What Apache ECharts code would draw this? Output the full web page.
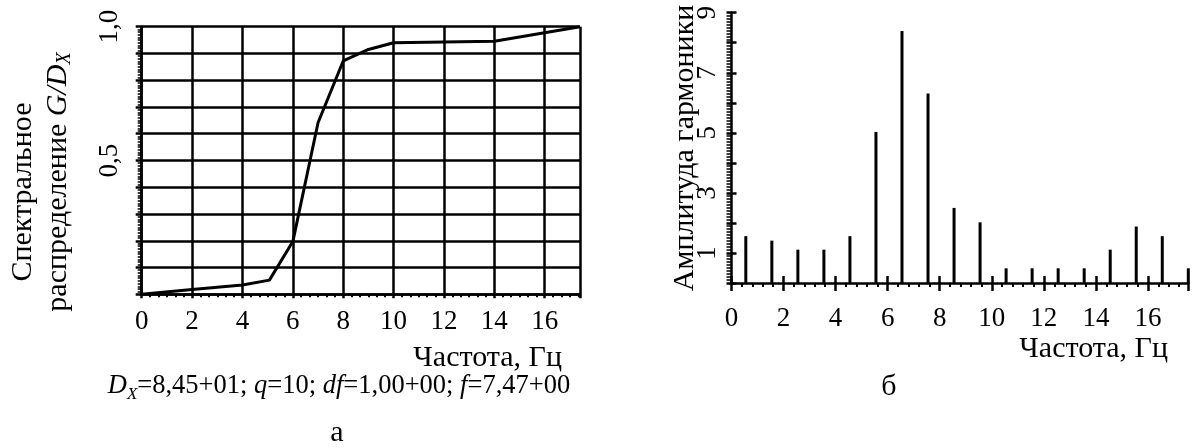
<!DOCTYPE html>
<html>
<head>
<meta charset="utf-8">
<script src="https://cdn.jsdelivr.net/npm/echarts@6/dist/echarts.min.js"></script>
<style>
html, body { margin: 0; padding: 0; background: #fff; }
#chart { width: 1194px; height: 448px; }
</style>
</head>
<body>
<div id="chart"></div>
<script>
// а - спектральное распределение G/Dx
const distFreq = [0, 2, 4, 5.07, 6, 7, 8, 9, 10, 14, 17.4];
const distValue = [0, 0.018, 0.035, 0.053, 0.197, 0.641, 0.872, 0.915, 0.94, 0.946, 1.0];
const distYLabels = ['0,5', '1,0'];

// б - амплитуды гармоник
const harmFreq = [0.55, 1.55, 2.55, 3.55, 4.55, 5.55, 6.55, 7.55, 8.55, 9.55, 10.55, 11.55, 12.55, 13.55, 14.55, 15.55, 16.55, 17.55];
const harmAmp = [1.56, 1.41, 1.11, 1.11, 1.56, 5.03, 8.39, 6.31, 2.5, 2.02, 0.49, 0.49, 0.49, 0.49, 1.11, 1.88, 1.56, 0.49];
const harmYLabels = ['1', '3', '5', '7', '9'];

const FF = '"Liberation Serif", "Times New Roman", serif';
const FS = 27;   // цифры
const FT = 30;   // подписи
const black = '#000';

let myChart = echarts.init(document.getElementById('chart'));

const lbl = { fontFamily: FF, fontSize: FS, color: black };

// обычный текст для graphic
function txt(x, y, text, align, rot) {
  return {
    type: 'text', x: x, y: y, rotation: rot || 0,
    style: { text: text, font: FT + 'px ' + FF, fill: black, align: align, verticalAlign: 'middle', textAlign: align, textVerticalAlign: 'middle' }
  };
}

const richStyles = function (size) {
  return {
    n: { fontFamily: FF, fontSize: size, lineHeight: 34, verticalAlign: 'middle' },
    i: { fontFamily: FF, fontSize: size, fontStyle: 'italic', lineHeight: 34, verticalAlign: 'middle' },
    s: { fontFamily: FF, fontSize: Math.round(size * 0.66), fontStyle: 'italic', lineHeight: 34, verticalAlign: 'bottom' }
  };
};

const option = {
  backgroundColor: '#fff',
  animation: false,
  grid: [
    { left: 141.7, top: 26.7, right: 614, bottom: 153.7 },
    { left: 731.5, top: 12.7, right: 5.7, bottom: 165 }
  ],
  xAxis: [
    {
      type: 'value', gridIndex: 0, min: 0, max: 17.4, interval: 2,
      axisLine: { lineStyle: { color: black, width: 2.5 } },
      axisTick: { show: true, inside: false, length: 4, lineStyle: { color: black, width: 2.5 } },
      minorTick: { show: true, splitNumber: 6, length: 3, lineStyle: { color: black, width: 2 } },
      splitLine: { show: true, lineStyle: { color: black, width: 2.5 } },
      axisLabel: Object.assign({ margin: 14, showMaxLabel: false }, lbl)
    },
    {
      type: 'value', gridIndex: 1, min: 0, max: 17.55, interval: 2,
      axisLine: { lineStyle: { color: black, width: 2.5 } },
      axisTick: { show: true, inside: true, length: 7, lineStyle: { color: black, width: 2.5 } },
      splitLine: { show: false },
      axisLabel: Object.assign({ margin: 22, showMaxLabel: false }, lbl)
    },
    {
      type: 'value', gridIndex: 1, min: 0, max: 17.55, interval: 2, position: 'bottom',
      axisLine: { show: false },
      axisTick: { show: true, inside: false, length: 8, lineStyle: { color: black, width: 2.5 } },
      minorTick: { show: true, splitNumber: 5, length: 4, lineStyle: { color: black, width: 2 } },
      splitLine: { show: false },
      axisLabel: { show: false }
    }
  ],
  yAxis: [
    {
      type: 'value', gridIndex: 0, min: 0, max: 1, interval: 0.1,
      axisLine: { lineStyle: { color: black, width: 2.5 } },
      axisTick: { show: true, inside: false, length: 6, lineStyle: { color: black, width: 2.5 } },
      minorTick: { show: true, splitNumber: 10, length: 4, lineStyle: { color: black, width: 1.5 } },
      splitLine: { show: true, lineStyle: { color: black, width: 2.5 } },
      axisLabel: Object.assign({
        margin: 18, rotate: 90,
        formatter: function (v) {
          if (Math.abs(v - 0.5) < 1e-6) return distYLabels[0];
          if (Math.abs(v - 1) < 1e-6) return distYLabels[1];
          return '';
        }
      }, lbl)
    },
    {
      type: 'value', gridIndex: 1, min: 0, max: 9, interval: 1,
      axisLine: { lineStyle: { color: black, width: 2.5 } },
      axisTick: { show: true, inside: true, length: 5, lineStyle: { color: black, width: 2.5 } },
      splitLine: { show: false },
      axisLabel: Object.assign({
        margin: 10, rotate: 90,
        formatter: function (v) {
          const i = harmYLabels.indexOf(String(v));
          return i >= 0 ? harmYLabels[i] : '';
        }
      }, lbl)
    },
    {
      type: 'value', gridIndex: 1, min: 0, max: 9, interval: 1, position: 'left',
      axisLine: { show: false },
      axisTick: { show: true, inside: false, length: 5, lineStyle: { color: black, width: 2.5 } },
      minorTick: { show: true, splitNumber: 10, length: 5, lineStyle: { color: black, width: 1.5 } },
      splitLine: { show: false },
      axisLabel: { show: false }
    }
  ],
  series: [
    {
      type: 'line', xAxisIndex: 0, yAxisIndex: 0,
      data: distFreq.map((f, i) => [f, distValue[i]]),
      symbol: 'none',
      lineStyle: { color: black, width: 3 }
    },
    {
      type: 'bar', xAxisIndex: 1, yAxisIndex: 1,
      data: harmFreq.map((f, i) => [f, harmAmp[i]]),
      barWidth: 3,
      itemStyle: { color: black }
    }
  ],
  graphic: [
    txt(23, 192, 'Спектральное', 'center', Math.PI / 2),
    {
      type: 'text', x: 58, y: 182, rotation: Math.PI / 2,
      style: {
        text: '{n|распределение }{i|G/D}{s|X}',
        fill: black, align: 'center', verticalAlign: 'middle', textAlign: 'center', textVerticalAlign: 'middle',
        rich: richStyles(FT)
      }
    },
    txt(562, 358, 'Частота, Гц', 'right'),
    {
      type: 'text', x: 339, y: 386,
      style: {
        text: '{i|D}{s|X}{n|=8,45+01; }{i|q}{n|=10; }{i|df}{n|=1,00+00; }{i|f}{n|=7,47+00}',
        fill: black, align: 'center', verticalAlign: 'middle', textAlign: 'center', textVerticalAlign: 'middle',
        rich: richStyles(26.5)
      }
    },
    txt(337, 433, 'а', 'center'),
    txt(685, 148, 'Амплитуда гармоники', 'center', Math.PI / 2),
    txt(1168, 349, 'Частота, Гц', 'right'),
    txt(889, 387, 'б', 'center')
  ]
};

myChart.setOption(option);
</script>
</body>
</html>
